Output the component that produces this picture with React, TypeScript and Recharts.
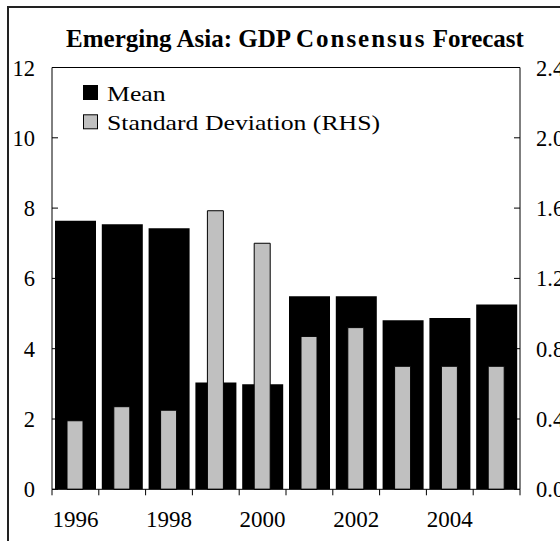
import React from 'react';
import { BarChart, Bar, XAxis, YAxis, ReferenceLine } from 'recharts';

const years = ['1996', '1997', '1998', '1999', '2000', '2001', '2002', '2003', '2004', '2005'];
const meanValues = [7.64, 7.54, 7.43, 3.04, 2.99, 5.49, 5.49, 4.81, 4.87, 5.26];
const sdValues = [0.39, 0.47, 0.45, 1.585, 1.4, 0.87, 0.92, 0.7, 0.7, 0.7];
const leftTicks = [0, 2, 4, 6, 8, 10, 12];
const rightTicks = [0, 0.4, 0.8, 1.2, 1.6, 2.0, 2.4];
const labelledYears = ['1996', '1998', '2000', '2002', '2004'];
const seriesNames = ['Mean', 'Standard Deviation (RHS)'];
const titleParts = ['Emerging Asia: GDP ', 'Consensus', ' Forecast'];

const data = years.map((year, i) => ({ year, mean: meanValues[i], sd: sdValues[i] }));

const FONT = '"Liberation Serif", "Times New Roman", serif';
const MEAN_FILL = '#000000';
const SD_FILL = '#c0c0c0';

const XTick = (props: any) => {
  const { x, y, payload, index } = props;
  const half = payload && typeof payload.offset === 'number' && payload.offset > 0 ? payload.offset : 23.4;
  const show = labelledYears.includes(String(payload.value));
  return (
    <g>
      <line x1={x - half} x2={x - half} y1={y} y2={y + 6} stroke="#000" strokeWidth={1} />
      {index === years.length - 1 && (
        <line x1={x + half} x2={x + half} y1={y} y2={y + 6} stroke="#000" strokeWidth={1} />
      )}
      {show && (
        <text x={x} y={y + 38} textAnchor="middle" fontFamily={FONT} fontSize={23} fill="#000">
          {payload.value}
        </text>
      )}
    </g>
  );
};

const LeftTick = (props: any) => {
  const { x, y, payload } = props;
  return (
    <g>
      <line x1={x} x2={x + 6} y1={y} y2={y} stroke="#000" strokeWidth={1} />
      <text x={x - 17} y={y + 8} textAnchor="end" fontFamily={FONT} fontSize={22.5} fill="#000">
        {payload.value}
      </text>
    </g>
  );
};

const RightTick = (props: any) => {
  const { x, y, payload } = props;
  return (
    <g>
      <line x1={x} x2={x - 6} y1={y} y2={y} stroke="#000" strokeWidth={1} />
      <text x={x + 16} y={y + 8} textAnchor="start" fontFamily={FONT} fontSize={22.5} fill="#000">
        {Number(payload.value).toFixed(1)}
      </text>
    </g>
  );
};

export default function App() {
  const legendColors = [MEAN_FILL, SD_FILL];
  return (
    <div style={{ position: 'fixed', left: 0, top: 0, width: 560, height: 541, overflow: 'hidden', background: '#fff' }}>
      <div
        style={{
          position: 'absolute',
          left: 7,
          top: 6,
          width: 700,
          height: 700,
          borderTop: '2px solid #222',
          borderLeft: '2px solid #222',
        }}
      />
      <div style={{ position: 'absolute', left: 0, top: 0 }}>
        <BarChart
          width={580}
          height={541}
          data={data}
          margin={{ top: 67.5, right: 0, left: 0, bottom: 11.7 }}
        >
          <XAxis
            xAxisId="main"
            dataKey="year"
            height={40}
            interval={0}
            tickSize={0}
            tickMargin={0}
            tickLine={false}
            axisLine={{ stroke: '#000', strokeWidth: 1 }}
            tick={<XTick />}
          />
          <XAxis xAxisId="sd" dataKey="year" hide />
          <YAxis
            yAxisId="left"
            width={52}
            domain={[0, 12]}
            ticks={leftTicks}
            interval={0}
            tickSize={0}
            tickMargin={0}
            tickLine={false}
            axisLine={{ stroke: '#000', strokeWidth: 1 }}
            tick={<LeftTick />}
          />
          <YAxis
            yAxisId="right"
            orientation="right"
            width={60}
            domain={[0, 2.4]}
            ticks={rightTicks}
            interval={0}
            tickSize={0}
            tickMargin={0}
            tickLine={false}
            axisLine={{ stroke: '#000', strokeWidth: 1 }}
            tick={<RightTick />}
          />
          <ReferenceLine xAxisId="main" yAxisId="left" y={12} stroke="#000" strokeWidth={1} />
          <Bar
            dataKey="mean"
            name={seriesNames[0]}
            xAxisId="main"
            yAxisId="left"
            fill={MEAN_FILL}
            barSize={41}
            isAnimationActive={false}
          />
          <Bar
            dataKey="sd"
            name={seriesNames[1]}
            xAxisId="sd"
            yAxisId="right"
            fill={SD_FILL}
            stroke="#000"
            strokeWidth={1}
            barSize={16}
            isAnimationActive={false}
          />
        </BarChart>
      </div>
      <svg
        width={560}
        height={541}
        style={{ position: 'absolute', left: 0, top: 0, pointerEvents: 'none' }}
      >
        <text x={295} y={46.5} textAnchor="middle" fontFamily={FONT} fontWeight="bold" fontSize={25} fill="#000">
          <tspan>{titleParts[0]}</tspan>
          <tspan letterSpacing={2}>{titleParts[1]}</tspan>
          <tspan>{titleParts[2]}</tspan>
        </text>
        {seriesNames.map((name, i) => (
          <g key={name}>
            <rect
              x={83.5}
              y={85.5 + i * 29.3}
              width={14}
              height={14}
              fill={legendColors[i]}
              stroke="#000"
              strokeWidth={1}
            />
            <text
              transform={`translate(107, ${101 + i * 29.3}) scale(1.17, 1)`}
              x={0}
              y={0}
              fontFamily={FONT}
              fontSize={22}
              fill="#000"
            >
              {name}
            </text>
          </g>
        ))}
      </svg>
    </div>
  );
}
